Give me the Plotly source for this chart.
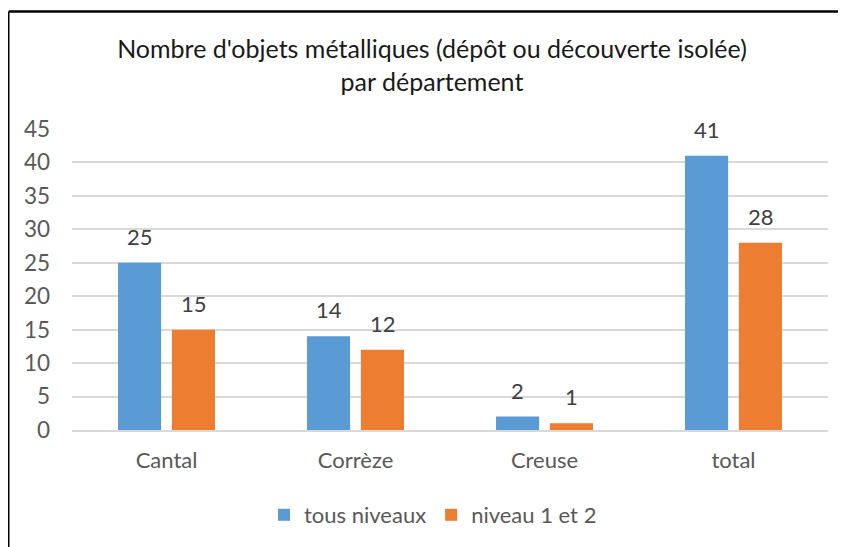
import plotly.graph_objects as go

categories = ["Cantal", "Corrèze", "Creuse", "total"]
tous_niveaux = [25, 14, 2, 41]
niveau_1_2 = [15, 12, 1, 28]
series_names = ["tous niveaux", "niveau 1 et 2"]
y_ticks = [0, 5, 10, 15, 20, 25, 30, 35, 40, 45]

BLUE = "#5B9BD5"
ORANGE = "#ED7D31"
GREY = "#595959"
FONT = "Lato"

fig = go.Figure()
fig.add_trace(go.Bar(x=categories, y=tous_niveaux, name=series_names[0],
                     marker=dict(color=BLUE, line=dict(width=0))))
fig.add_trace(go.Bar(x=categories, y=niveau_1_2, name=series_names[1],
                     marker=dict(color=ORANGE, line=dict(width=0))))

annotations = []
for vals, shift in ((tous_niveaux, -27), (niveau_1_2, 27)):
    for c, v in zip(categories, vals):
        annotations.append(dict(x=c, y=v, xref="x", yref="y", text=str(v),
                                showarrow=False, xshift=shift, yanchor="bottom",
                                yshift=11, font=dict(family=FONT, size=22, color="#404040")))

# page is shown with an 8px body margin, so figure coords = page coords - 8
L, R, T, B = 64, 26, 121, 125
pw = 846 - L - R
ph = 547 - T - B
left_px, top_px = 0.75, 3.5
xl = (left_px - L) / pw
yt = (547 - B - top_px) / ph

shapes = [
    dict(type="line", xref="paper", yref="paper", x0=xl, x1=2, y0=yt, y1=yt,
         line=dict(color="black", width=2.5)),
    dict(type="line", xref="paper", yref="paper", x0=xl, x1=xl, y0=-2, y1=yt,
         line=dict(color="black", width=1.5)),
]

fig.update_layout(
    width=846, height=547,
    margin=dict(l=L, r=R, t=T, b=B),
    paper_bgcolor="white", plot_bgcolor="white",
    barmode="group", bargap=0.43, bargroupgap=0.2,
    font=dict(family=FONT, color=GREY),
    title=dict(text="Nombre d'objets métalliques (dépôt ou découverte isolée)<br>par département",
               x=424 / 846, xanchor="center", xref="container",
               y=1 - 50 / 547, yanchor="top", yref="container",
               font=dict(family=FONT, size=25, color="#1a1a1a")),
    xaxis=dict(showgrid=False, showline=True, linecolor="#D9D9D9", linewidth=1.5,
               ticks="", tickfont=dict(size=22, color=GREY), ticklabelstandoff=10),
    yaxis=dict(range=[0, 45], tickvals=y_ticks, showgrid=True, gridcolor="#D9D9D9",
               gridwidth=1.5, zeroline=False, showline=False, ticks="",
               tickfont=dict(size=22.5, color=GREY), ticklabelstandoff=21),
    legend=dict(orientation="h", xref="container", yref="container",
                x=425 / 846, xanchor="center", y=1 - 507 / 547, yanchor="middle",
                font=dict(size=22, color=GREY), itemwidth=30, traceorder="normal"),
    annotations=annotations,
    shapes=shapes,
)

fig.write_html("out.html")
